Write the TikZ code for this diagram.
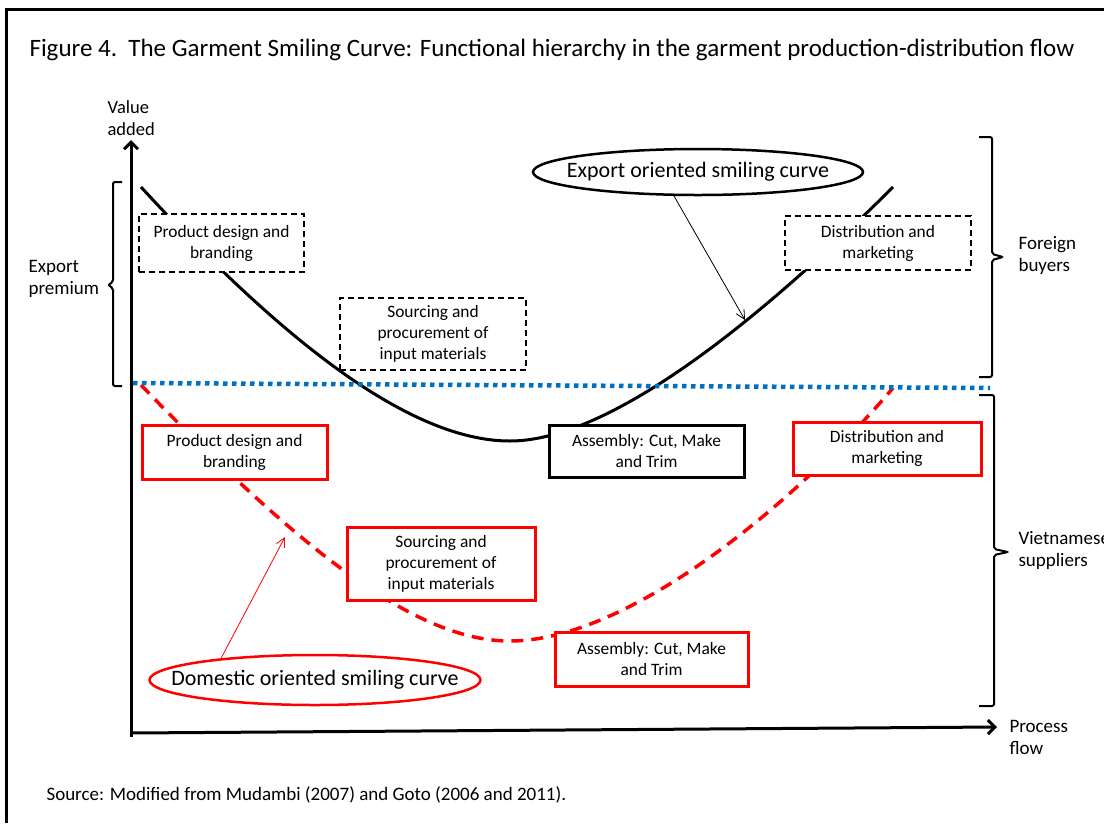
\documentclass[tikz,border=0pt]{standalone}
\usepackage{fontspec}
\setmainfont{Carlito}
\usetikzlibrary{arrows.meta,shapes.geometric}
\definecolor{divblue}{RGB}{0,112,192}

\begin{document}
\begin{tikzpicture}[x=1pt,y=-1pt,
  every node/.style={font=\fontsize{17.4}{21}\selectfont, align=center},
  side/.style={anchor=west, align=left, font=\fontsize{19}{22}\selectfont},
  expbox/.style={draw, line width=2pt, dash pattern=on 6pt off 4pt, fill=white},
  expsolid/.style={draw, line width=3pt, fill=white},
  dombox/.style={draw=red, line width=3pt, fill=white},
  oval/.style={draw, ellipse, line width=2.5pt, inner xsep=-30pt, inner ysep=0pt,
    font=\fontsize{22}{26}\selectfont},
  axis/.style={line width=3pt, -{Straight Barb[length=7pt,width=14pt]}},
  pointer/.style={line width=0.8pt, -{Straight Barb[length=9pt,width=9pt]}},
  bracket/.style={line width=2pt, rounded corners=2pt}]
  \useasboundingbox (0,0) rectangle (1104,823);

  \coordinate (origin) at (131,737);
  \coordinate (yEnd) at (131,140);
  \coordinate (xStart) at (131,733);
  \coordinate (xEnd) at (997,727);
  \coordinate (divL) at (133,383);
  \coordinate (divR) at (990,388);
  \coordinate (expHit) at (745,320);
  \coordinate (domHit) at (285,537);

  % frame
  \draw[line width=3pt] (1104,9) -- (6,9) -- (6,823);
  \node[anchor=west, font=\fontsize{25}{30}\selectfont] (title) at (26,50)
    {Figure 4.\ \ The Garment Smiling Curve: Functional hierarchy in the garment production-distribution flow};

  % axes
  \draw[axis] (origin) -- (yEnd);
  \draw[axis] (xStart) -- (xEnd);
  \node[side, font=\fontsize{18.5}{22}\selectfont] (yLabel) at (104,118) {Value\\added};
  \node[side] (xLabel) at (1006,737) {Process\\flow};

  % smiling curves
  \draw[line width=3pt] (141,187) .. controls (300,360) and (420,441) .. (510,441)
    .. controls (610,441) and (760,320) .. (893,187);
  \draw[red, line width=3.5pt, dash pattern=on 12pt off 8pt]
    (141,385) .. controls (310,560) and (420,641) .. (510,641)
    .. controls (620,641) and (780,520) .. (893,388);
  \draw[divblue, line width=4.5pt, dash pattern=on 4.5pt off 4.5pt] (divL) -- (divR);

  % export stages
  \node[expbox, minimum width=165pt, minimum height=58pt] (pdbExp) at (221.5,243) {Product design and\\branding};
  \node[expbox, minimum width=186pt, minimum height=72pt] (srcExp) at (433,334) {Sourcing and\\procurement of\\input materials};
  \node[expbox, minimum width=186pt, minimum height=54pt] (disExp) at (878,243) {Distribution and\\marketing};
  \node[expsolid, minimum width=195pt, minimum height=52pt] (asmExp) at (646.5,451) {Assembly: Cut, Make\\and Trim};

  % domestic stages
  \node[dombox, minimum width=185pt, minimum height=54pt] (pdbDom) at (234.5,452) {Product design and\\branding};
  \node[dombox, minimum width=188pt, minimum height=73pt] (srcDom) at (441,563.5) {Sourcing and\\procurement of\\input materials};
  \node[dombox, minimum width=193pt, minimum height=54pt] (asmDom) at (651.5,659) {Assembly: Cut, Make\\and Trim};
  \node[dombox, minimum width=188pt, minimum height=53pt] (disDom) at (887,448.5) {Distribution and\\marketing};

  % curve labels
  \node[oval, minimum width=330pt, minimum height=46pt] (expOval) at (698,172) {Export oriented smiling curve};
  \node[oval, draw=red, minimum width=331pt, minimum height=50pt] (domOval) at (315,680) {Domestic oriented smiling curve};
  \draw[pointer] (expOval.225) -- (expHit);
  \draw[pointer, red] (domOval.167) -- (domHit);

  % groups
  \draw[bracket] (122,182) -- (113,182) -- (113,282) -- (108,285) -- (113,288) -- (113,386) -- (122,386);
  \draw[bracket] (979,137) -- (992,137) -- (992,254) -- (1003,257) -- (992,260) -- (992,377) -- (979,377);
  \draw[bracket] (979,395) -- (994,395) -- (994,549) -- (1008,552) -- (994,555) -- (994,706) -- (979,706);
  \node[side] (premium) at (25,279) {Export\\premium};
  \node[side] (foreign) at (1015,255) {Foreign\\buyers};
  \node[side] (vietnam) at (1015,550) {Vietnamese\\suppliers};

  \node[anchor=west, font=\fontsize{19}{23}\selectfont] (source) at (43,795)
    {Source: Modified from Mudambi (2007) and Goto (2006 and 2011).};
\end{tikzpicture}
\end{document}
